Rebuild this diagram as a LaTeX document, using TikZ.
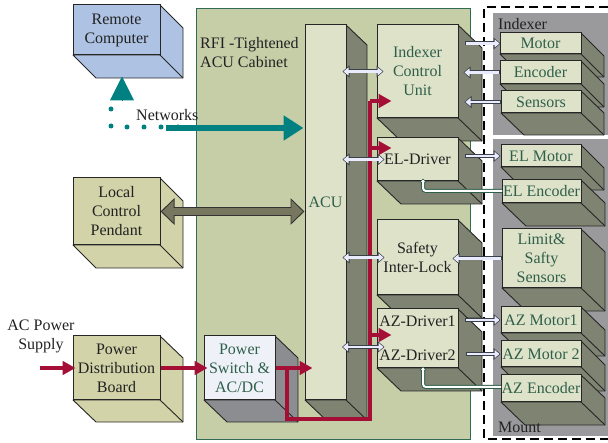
\documentclass[tikz,border=0pt]{standalone}
\usepackage{fontspec}
\setmainfont{Liberation Serif}
\usetikzlibrary{arrows.meta,calc}
\definecolor{cabinet}{HTML}{C6CEA8}
\definecolor{cabedge}{HTML}{2F6B55}
\definecolor{frontpale}{HTML}{DEE2C9}
\definecolor{sidegrey}{HTML}{7F8372}
\definecolor{bluefront}{HTML}{AEC3E3}
\definecolor{khaki}{HTML}{D2D3A8}
\definecolor{panel}{HTML}{9A9A9C}
\definecolor{iceblue}{HTML}{EEF2F8}
\definecolor{steel}{HTML}{8C8D90}
\definecolor{powerred}{HTML}{A50F35}
\definecolor{netteal}{HTML}{008080}
\definecolor{deepgreen}{HTML}{2F5F4A}
\definecolor{inkdark}{HTML}{222222}
\definecolor{olive}{HTML}{77775F}
\definecolor{hollowedge}{HTML}{3A4048}
\tikzset{
  x=1pt,y=-1pt,
  every node/.style={font=\fontsize{16}{19}\selectfont,text=inkdark},
  facebox/.style={draw=black!85,line width=1pt,inner sep=0pt,align=center},
  edgeline/.style={draw=black!85,line width=.9pt,line join=round},
  plainlabel/.style={inner sep=0pt,align=center},
  hollowouter/.style={draw=hollowedge,line width=4pt},
  hollowinner/.style={draw=white!92!blue,line width=2.2pt},
  greenouter/.style={draw=deepgreen,line width=4pt,rounded corners=3pt},
  greeninner/.style={draw=white,line width=2pt,rounded corners=3pt},
  redline/.style={draw=powerred,line width=3.2pt,-{Triangle[width=13.5pt,length=13pt]}},
  redbare/.style={draw=powerred,line width=3.2pt},
  tealmain/.style={draw=netteal,line width=5.5pt,-{Triangle[width=24pt,length=20pt]}},
  tealdots/.style={draw=netteal,line width=5pt,line cap=round,dash pattern=on 0pt off 17pt},
  tealup/.style={draw=netteal,line width=1pt,-{Triangle[width=24pt,length=24pt]}},
}
\newcommand\setcube[3]{\def\cubefront{#1}\def\cubeside{#2}\def\cubetext{#3}}
% name, x0,y0,x1,y1, depth x, depth y, text
\newcommand\cube[8]{%
  \path[edgeline,fill=\cubeside] (#4,#3) -- ({#4+#6},{#3+#7}) -- ({#4+#6},{#5+#7}) -- ({#2+#6},{#5+#7}) -- (#2,#5) -- (#4,#5) -- cycle;
  \draw[edgeline] (#4,#5) -- ({#4+#6},{#5+#7});
  \node[facebox,fill=\cubefront,text=\cubetext,minimum width={(#4-#2)*1pt},minimum height={(#5-#3)*1pt}]
    (#1) at ({(#2+#4)/2},{(#3+#5)/2}) {#8};
}
% hollow links: start trim, end trim, path
\newcommand\hlink[3]{%
  \draw[hollowouter,shorten <={(#1)*1pt},shorten >={(#2)*1pt},-{Triangle[width=11.5pt,length=7pt]}] #3;
  \draw[hollowinner,shorten <={(#1+1)*1pt},shorten >={(#2+1)*1pt},-{Triangle[width=8pt,length=5pt]}] #3;
}
\newcommand\hlinkboth[3]{%
  \draw[hollowouter,shorten <={(#1)*1pt},shorten >={(#2)*1pt},{Triangle[width=11.5pt,length=7pt]}-{Triangle[width=11.5pt,length=7pt]}] #3;
  \draw[hollowinner,shorten <={(#1+1)*1pt},shorten >={(#2+1)*1pt},{Triangle[width=8pt,length=5pt]}-{Triangle[width=8pt,length=5pt]}] #3;
}
\newcommand\glink[2]{%
  \draw[greenouter,shorten >={(#1)*1pt},-{Triangle[width=7pt,length=4pt]}] #2;
  \draw[greeninner,shorten >={(#1+1)*1pt},-{Triangle[width=4pt,length=2.5pt]}] #2;
}
\begin{document}
\begin{tikzpicture}
\useasboundingbox (0,0) rectangle (608,443);
\fill[white] (0,0) rectangle (608,443);
% backgrounds
\path[fill=cabinet,draw=cabedge,line width=.9pt] (196,8) rectangle (470,439);
\fill[panel] (493,13) rectangle (608,135);
\fill[panel] (493,139) rectangle (608,436);
% cubes
\setcube{bluefront}{bluefront}{inkdark}
\cube{remote}{73}{5}{160}{55}{23}{23}{Remote\\Computer}
\setcube{khaki}{khaki}{inkdark}
\cube{pendant}{73}{178}{160}{245}{23}{23}{Local\\Control\\Pendant}
\cube{pdb}{73}{336}{160}{400}{23}{22}{Power\\Distribution\\Board}
\setcube{iceblue}{steel}{deepgreen}
\cube{psw}{204}{336}{275}{400}{23}{22}{Power\\Switch \&\\AC/DC}
\setcube{frontpale}{sidegrey}{deepgreen}
\cube{acu}{305}{25}{346}{400}{21}{20}{\raisebox{20pt}{ACU}}
\cube{icu}{377}{25}{458}{118}{24}{23}{Indexer\\Control\\Unit}
\setcube{frontpale}{sidegrey}{inkdark}
\cube{eld}{377}{138}{458}{181}{24}{23}{EL-Driver}
\cube{safety}{377}{220}{458}{295}{24}{23}{Safety\\Inter-Lock}
\cube{azd}{377}{309}{458}{368}{24}{23}{AZ-Driver1\\[15pt]AZ-Driver2}
\setcube{frontpale}{sidegrey}{deepgreen}
\cube{motor}{500}{33}{581}{54}{23}{23}{Motor}
\cube{encoder}{500}{61}{581}{84}{23}{23}{Encoder}
\cube{sensors}{501}{91}{581}{113}{23}{22}{Sensors}
\cube{elmotor}{501}{145}{581}{167}{23}{23}{EL Motor}
\cube{elenc}{502}{180}{581}{203}{24}{23}{EL Encoder}
\cube{limit}{502}{229}{581}{288}{24}{23}{Limit\&\\Safty\\Sensors}
\cube{azm1}{501}{307}{581}{333}{24}{23}{AZ Motor1}
\cube{azm2}{501}{341}{581}{367}{24}{24}{AZ Motor 2}
\cube{azenc}{501}{375}{581}{402}{24}{23}{AZ Encoder}
% dashed frame
\draw[black,line width=1.6pt,dash pattern=on 9pt off 5pt] (608,7) -- (484,7) -- (484,439) -- (608,439);
% labels
\node[plainlabel,align=left,anchor=west] (cablabel) at (200,52.5) {RFI -Tightened\\ACU Cabinet};
\node[plainlabel,anchor=west] (netlabel) at (136,115) {Networks};
\node[plainlabel] (aclabel) at (41,336) {AC Power\\Supply};
\node[plainlabel,anchor=west] (idxlabel) at (498,24) {Indexer};
\node[plainlabel,anchor=west] (mntlabel) at (498,427) {Mount};
% network
\coordinate (netA) at (178,127);
\coordinate (netB) at (111,127);
\coordinate (netC) at (111,108);
\coordinate (netD) at (122,101);
\coordinate (netE) at (166,128);
\draw[tealdots] (netA) -- (netB) -- (netC);
\draw[tealup,shorten >=21pt] (netD) -- (netD |- remote.south);
\draw[tealmain,shorten >=1pt] (netE) -- (netE -| acu.west);
% pendant link
\draw[draw=black!80,line width=9pt,{Triangle[width=26pt,length=14pt]}-{Triangle[width=26pt,length=14pt]}] (pendant.east) -- (pendant.east -| acu.west);
\draw[draw=olive,line width=7pt,shorten <=1.7pt,shorten >=1.7pt,{Triangle[width=22pt,length=11.5pt]}-{Triangle[width=22pt,length=11.5pt]}] (pendant.east) -- (pendant.east -| acu.west);
% power
\coordinate (acin) at (40,368);
\coordinate (pwrT) at (287,368);
\coordinate (pwrB) at (287,419);
\coordinate (pwrC) at (370,419);
\coordinate (riserA) at (370,101);
\coordinate (riserB) at (370,148);
\coordinate (riserC) at (370,335);
\draw[redline,shorten >=-3pt] (acin) -- (acin -| pdb.west);
\draw[redline,shorten >=-4pt] (pdb.east |- acin) -- (psw.west |- acin);
\draw[redline,shorten >=-8pt] (psw.east |- acin) -- (acu.west |- acin);
\draw[redbare] (pwrT) -- (pwrB) -- (pwrC) -- (riserA);
\draw[redline,shorten >=-15pt] (riserA) -- (riserA -| icu.west);
\draw[redline,shorten >=-15pt] (riserB) -- (riserB -| eld.west);
\draw[redline,shorten >=-15pt] (riserC) -- (riserC -| azd.west);
% bus links
\coordinate (busAZ) at (346,347);
\hlinkboth{-4}{-7}{(acu.east |- icu.center) -- (icu.west)}
\hlinkboth{-4}{-8}{(acu.east |- eld.center) -- (eld.west)}
\hlinkboth{-4}{-8}{(acu.east |- safety.center) -- (safety.west)}
\hlinkboth{-4}{-8}{(busAZ) -- (busAZ -| azd.west)}
% peripherals
\coordinate (azOne) at (458,320);
\coordinate (azTwo) at (458,354);
\hlink{6}{-1}{(motor.west -| icu.east) -- (motor.west)}
\hlink{0}{5}{(encoder.west) -- (encoder.west -| icu.east)}
\hlink{0}{6}{(sensors.west) -- (sensors.west -| icu.east)}
\hlink{6}{0}{(elmotor.west -| eld.east) -- (elmotor.west)}
\hlink{0}{-6}{(limit.west) -- (limit.west -| safety.east)}
\hlink{7}{0}{(azOne) -- (azOne -| azm1.west)}
\hlink{8}{0}{(azTwo) -- (azTwo -| azm2.west)}
\coordinate (elA) at (502,191);
\coordinate (elB) at (423,191);
\coordinate (azA) at (501,387);
\coordinate (azB) at (423,387);
\glink{-3}{(elA) -- (elB) -- (elB |- eld.south)}
\glink{-2}{(azA) -- (azB) -- (azB |- azd.south)}
\end{tikzpicture}
\end{document}
